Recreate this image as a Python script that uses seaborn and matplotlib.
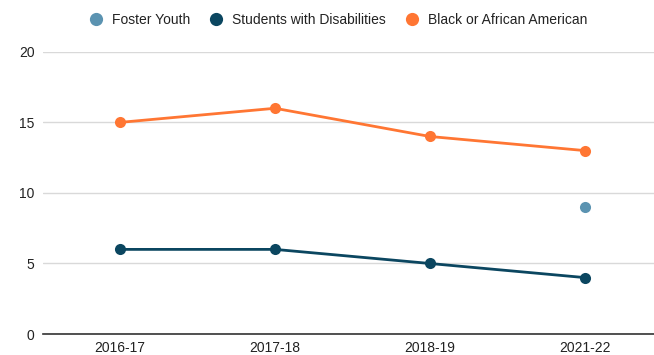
import matplotlib
matplotlib.use("Agg")
import matplotlib.pyplot as plt
import seaborn as sns
import pandas as pd
import numpy as np
from matplotlib.lines import Line2D

years = ["2016-17", "2017-18", "2018-19", "2021-22"]
foster_youth = [np.nan, np.nan, np.nan, 9]
students_disabilities = [6, 6, 5, 4]
black_african_american = [15, 16, 14, 13]

series_names = ["Foster Youth", "Students with Disabilities", "Black or African American"]
colors = {"Foster Youth": "#5b93b1", "Students with Disabilities": "#0b4660", "Black or African American": "#ff7633"}

df = pd.DataFrame({
    "year": years * 3,
    "x": list(range(len(years))) * 3,
    "series": [s for s in series_names for _ in years],
    "value": foster_youth + students_disabilities + black_african_american,
})

sns.set_theme(style="white")
plt.rcParams["font.family"] = ["Liberation Sans", "DejaVu Sans"]

fig = plt.figure(figsize=(6.54, 3.55), dpi=100)
ax = fig.add_axes([0.0657, 0.059, 0.9343, 0.795])

for s in series_names:
    d = df[df["series"] == s].dropna()
    sns.lineplot(data=d, x="x", y="value", ax=ax, color=colors[s], linewidth=2,
                 marker="o", markersize=8, markeredgewidth=0, legend=False)

ax.set_xlim(-0.497, 3.445)
ax.set_ylim(0, 20)
ax.set_yticks([0, 5, 10, 15, 20])
ax.set_xticks(range(len(years)))
ax.set_xticklabels(years)
ax.set_xlabel("")
ax.set_ylabel("")
ax.grid(axis="y", color="#d9d9d9", linewidth=1)
ax.set_axisbelow(True)
for sp in ["top", "right", "left"]:
    ax.spines[sp].set_visible(False)
ax.spines["bottom"].set_color("#333333")
ax.spines["bottom"].set_linewidth(1.2)
ax.tick_params(axis="both", length=0, labelsize=10, colors="#222222")
ax.tick_params(axis="x", pad=5)
ax.tick_params(axis="y", pad=6)

handles = [Line2D([], [], linestyle="none", marker="o", markersize=9.5, markeredgewidth=0,
                  color=colors[s]) for s in series_names]
fig.legend(handles, series_names, loc="center", bbox_to_anchor=(0.517, 0.944), ncol=3,
           frameon=False, fontsize=10, handlelength=1.0, handletextpad=0.65,
           columnspacing=1.37, labelcolor="#222222")

fig.savefig("out.png", dpi=100)
